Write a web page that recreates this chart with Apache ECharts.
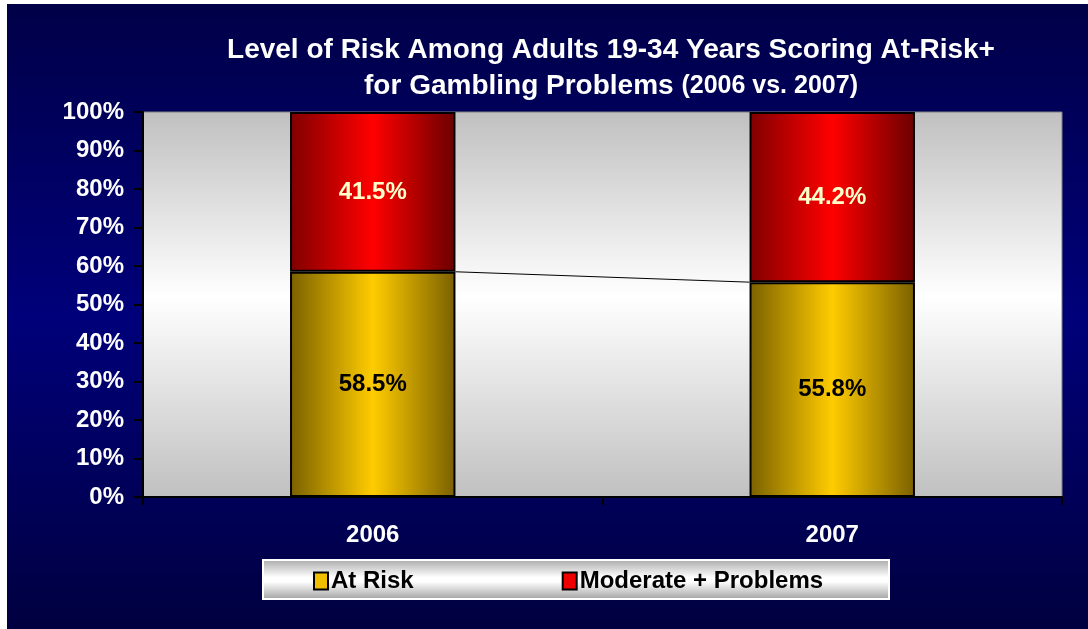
<!DOCTYPE html>
<html>
<head>
<meta charset="utf-8">
<script src="https://cdn.jsdelivr.net/npm/echarts@6/dist/echarts.min.js"></script>
<style>
  html, body { margin: 0; padding: 0; background: #fff; }
  #chart { width: 1088px; height: 629px; }
</style>
</head>
<body>
<div id="chart"></div>
<script>
// data
var years = ['2006', '2007'];
var atRisk = [58.5, 55.8];
var moderate = [41.5, 44.2];
var yTicks = [0, 10, 20, 30, 40, 50, 60, 70, 80, 90, 100];

var BAR_FRAC = 0.36; // bar width as share of category

function hGrad(edge, mid, edge2) {
  return new echarts.graphic.LinearGradient(0, 0, 1, 0, [
    { offset: 0, color: edge },
    { offset: 0.5, color: mid },
    { offset: 1, color: edge2 }
  ]);
}

var chart = echarts.init(document.getElementById('chart'));

var option = {
  animation: false,
  backgroundColor: '#fff',
  textStyle: { fontFamily: 'Liberation Sans, Arial, sans-serif' },
  graphic: [
    // navy panel
    {
      type: 'rect', left: 7, top: 4, z: -10,
      shape: { width: 1081, height: 625 },
      style: {
        fill: new echarts.graphic.LinearGradient(0, 0, 0, 1, [
          { offset: 0, color: '#000048' },
          { offset: 0.5, color: '#00007a' },
          { offset: 1, color: '#000040' }
        ])
      }
    },
    // legend box
    {
      type: 'rect', left: 262, top: 559, z: 1,
      shape: { width: 626, height: 39 },
      style: {
        fill: new echarts.graphic.LinearGradient(0, 0, 0, 1, [
          { offset: 0, color: '#a8a8a8' },
          { offset: 0.45, color: '#ffffff' },
          { offset: 0.55, color: '#ffffff' },
          { offset: 1, color: '#a0a0a0' }
        ]),
        stroke: '#ffffff', lineWidth: 2
      }
    }
  ],
  title: {
    left: 606,
    textAlign: 'center',
    top: 27,
    text: '{a|Level of Risk Among Adults 19-34 Years Scoring At-Risk+}\n{a|for Gambling Problems }{b|(2006 vs. 2007)}',
    textStyle: {
      rich: {
        a: { color: '#fff', fontSize: 28, fontWeight: 'bold', lineHeight: 36, fontFamily: 'Liberation Sans, Arial' },
        b: { color: '#fff', fontSize: 25, fontWeight: 'bold', lineHeight: 36, fontFamily: 'Liberation Sans, Arial' }
      }
    }
  },
  legend: {
    left: 313,
    top: 569,
    padding: 0,
    itemGap: 148,
    itemWidth: 14,
    itemHeight: 17,
    icon: 'rect',
    z: 3,
    textStyle: { color: '#000', fontSize: 24, fontWeight: 'bold', padding: [0, 0, 0, -2] },
    data: [
      { name: 'At Risk', itemStyle: { color: '#f0c000', borderColor: '#000', borderWidth: 2 } },
      { name: 'Moderate + Problems', itemStyle: { color: '#ee0000', borderColor: '#000', borderWidth: 2 } }
    ]
  },
  grid: {
    left: 143, right: 26, top: 112, bottom: 132,
    show: true,
    borderColor: '#808080',
    borderWidth: 1,
    backgroundColor: new echarts.graphic.LinearGradient(0, 0, 0, 1, [
      { offset: 0, color: '#c0c0c0' },
      { offset: 0.48, color: '#ffffff' },
      { offset: 1, color: '#c0c0c0' }
    ])
  },
  xAxis: {
    type: 'category',
    data: years,
    axisLine: { lineStyle: { color: '#000', width: 2 } },
    axisTick: { show: true, length: 8, lineStyle: { color: '#000', width: 2 } },
    axisLabel: { color: '#fff', fontSize: 24, fontWeight: 'bold', margin: 26 },
    splitLine: { show: false }
  },
  yAxis: {
    type: 'value',
    min: 0, max: 100, interval: 10,
    axisLine: { show: true, lineStyle: { color: '#000', width: 2 } },
    axisTick: { show: true, length: 9, lineStyle: { color: '#000', width: 2 } },
    axisLabel: {
      color: '#fff', fontSize: 24, fontWeight: 'bold', margin: 19,
      formatter: function (v) { return yTicks.indexOf(v) >= 0 ? v + '%' : ''; }
    },
    splitLine: { show: false }
  },
  series: [
    {
      name: 'At Risk',
      type: 'bar',
      stack: 'total',
      barWidth: (BAR_FRAC * 100) + '%',
      data: atRisk,
      itemStyle: {
        color: hGrad('#7a6000', '#ffcc00', '#7a6000'),
        borderColor: '#000', borderWidth: 2
      },
      label: {
        show: true, position: 'inside', color: '#000',
        fontSize: 24, fontWeight: 'bold',
        formatter: function (p) { return p.value.toFixed(1) + '%'; }
      }
    },
    {
      name: 'Moderate + Problems',
      type: 'bar',
      stack: 'total',
      barWidth: (BAR_FRAC * 100) + '%',
      data: moderate,
      itemStyle: {
        color: hGrad('#800000', '#ff0000', '#6a0000'),
        borderColor: '#000', borderWidth: 2
      },
      label: {
        show: true, position: 'inside', color: '#ffffcc',
        fontSize: 24, fontWeight: 'bold',
        formatter: function (p) { return p.value.toFixed(1) + '%'; }
      }
    },
    {
      // series line between the tops of the "At Risk" segments
      name: 'seriesLine',
      type: 'custom',
      silent: true,
      z: 1,
      data: atRisk.map(function (v, i) { return [i, v]; }),
      renderItem: function (params, api) {
        var i = api.value(0);
        if (i >= atRisk.length - 1) return null;
        var p1 = api.coord([i, atRisk[i]]);
        var p2 = api.coord([i + 1, atRisk[i + 1]]);
        var half = api.size([1, 0])[0] * BAR_FRAC / 2;
        return {
          type: 'line',
          shape: { x1: p1[0] + half, y1: p1[1], x2: p2[0] - half, y2: p2[1] },
          style: { stroke: '#000', lineWidth: 1 }
        };
      }
    }
  ]
};

chart.setOption(option);
</script>
</body>
</html>
